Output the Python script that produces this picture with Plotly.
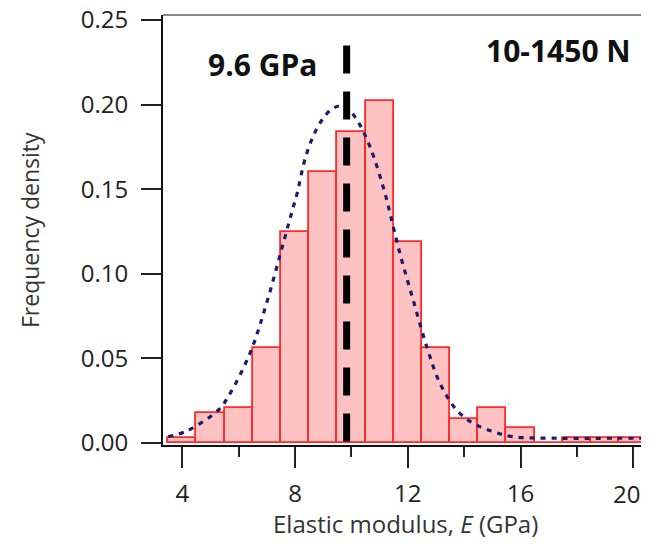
import plotly.graph_objects as go

# Histogram bins (centres, GPa) and frequency densities
bin_centers = [4, 5, 6, 7, 8, 9, 10, 11, 12, 13, 14, 15, 16, 17, 18, 19, 20, 21]
densities = [0.0031, 0.0175, 0.0205, 0.0563, 0.1245, 0.160, 0.184, 0.2023, 0.1186,
             0.0563, 0.0142, 0.0205, 0.0087, 0.0, 0.003, 0.003, 0.003, 0.003]

# Fitted density curve
fit_x = [3.50, 4.16, 5.28, 5.63, 6.40, 6.99, 7.58, 7.94, 8.06, 8.41, 8.88, 9.36, 9.77,
         10.19, 10.66, 11.19, 11.31, 11.72, 12.19, 12.67, 13.14, 13.73, 14.32, 15.03,
         15.74, 17.28, 19.41, 20.60]
fit_y = [0.0037, 0.0071, 0.0195, 0.0274, 0.053, 0.0826, 0.118, 0.1397, 0.1466, 0.171,
         0.189, 0.198, 0.199, 0.191, 0.175, 0.1476, 0.1397, 0.112, 0.0845, 0.057,
         0.0353, 0.0195, 0.0116, 0.0067, 0.0037, 0.0028, 0.0028, 0.0028]

mean_x = [9.83, 9.83]
mean_y = [0.235, -0.0012]

x_tickvals = [4, 8, 12, 16, 20]
x_ticktext = ["4", "8", "12", "16", ""]   # last label drawn as annotation so it stays visible
last_x_label = "20"
y_tickvals = [0.00, 0.05, 0.10, 0.15, 0.20, 0.25]
y_ticktext = ["0.00", "0.05", "0.10", "0.15", "0.20", "0.25"]

fig = go.Figure()
fig.add_trace(go.Bar(
    x=bin_centers, y=densities, width=1.0,
    marker=dict(color="#ffc2c2", line=dict(color="#ff2a2a", width=1.8)),
    showlegend=False,
))
fig.add_trace(go.Scatter(
    x=fit_x, y=fit_y, mode="lines", line_shape="spline",
    line=dict(color="#1c1c6a", width=3.2, dash="5px,6px"),
    showlegend=False,
))
fig.add_trace(go.Scatter(
    x=mean_x, y=mean_y, mode="lines",
    line=dict(color="black", width=7, dash="28px,18px"),
    showlegend=False,
))

font_family = "Open Sans, Noto Sans, Liberation Sans, sans-serif"

# page has an 8px body margin; the figure is sized so it fits in the window
OFF = 8
W, H = 649 - OFF, 546 - 2 * OFF
L, R, T, B = 163 - OFF, 0, 15 - OFF, H - (445 - OFF)
pw, ph = W - L - R, H - T - B

fig.update_layout(
    width=W, height=H,
    margin=dict(l=L, r=R, t=T, b=B, autoexpand=False),
    paper_bgcolor="white", plot_bgcolor="white",
    bargap=0,
    font=dict(family=font_family, color="#222"),
    xaxis=dict(
        range=[3.315, 20.556], tickvals=x_tickvals, ticktext=x_ticktext,
        ticks="outside", ticklen=21,
        tickwidth=2, tickcolor="#222", showline=True, linecolor="#111", linewidth=2,
        showgrid=False, zeroline=False, tickfont=dict(size=24, color="#222"),
        ticklabelstandoff=5, automargin=False, ticklabeloverflow="allow",
        minor=dict(tickvals=[6, 10, 14, 18], ticks="outside", ticklen=10,
                   tickwidth=2, tickcolor="#222"),
    ),
    yaxis=dict(
        range=[-0.0012, 0.25296], tickvals=y_tickvals, ticktext=y_ticktext,
        ticks="outside", ticklen=20, tickwidth=2, tickcolor="#222",
        showline=True, linecolor="#111", linewidth=2, showgrid=False, zeroline=False,
        tickfont=dict(size=24, color="#222"), ticklabelstandoff=8, automargin=False,
        ticklabeloverflow="allow",
    ),
    shapes=[dict(type="line", xref="paper", yref="paper", x0=0, x1=1, y0=1, y1=1,
                 line=dict(color="#888", width=2))],
    annotations=[
        dict(text="<b>9.6 GPa</b>", x=262, y=64, showarrow=False,
             font=dict(size=30, color="#111")),
        dict(text="<b>10-1450 N</b>", x=558, y=50, showarrow=False,
             font=dict(size=30, color="#111")),
        dict(text="Elastic modulus, <i>E</i> (GPa)", x=405, y=523, showarrow=False,
             font=dict(size=24, color="#333")),
        dict(text="Frequency density", x=30, y=230, showarrow=False, textangle=-90,
             font=dict(size=23, color="#333")),
        dict(text=last_x_label, x=626, y=493, showarrow=False,
             font=dict(size=24, color="#222")),
    ],
)

# Convert window-pixel-positioned annotations into paper coords
for a in fig.layout.annotations:
    px, py = a.x - OFF, a.y - OFF
    a.xref = "paper"
    a.yref = "paper"
    a.x = (px - L) / pw
    a.y = 1 - (py - T) / ph
    a.xanchor = "center"
    a.yanchor = "middle"

fig.write_html("out.html")
